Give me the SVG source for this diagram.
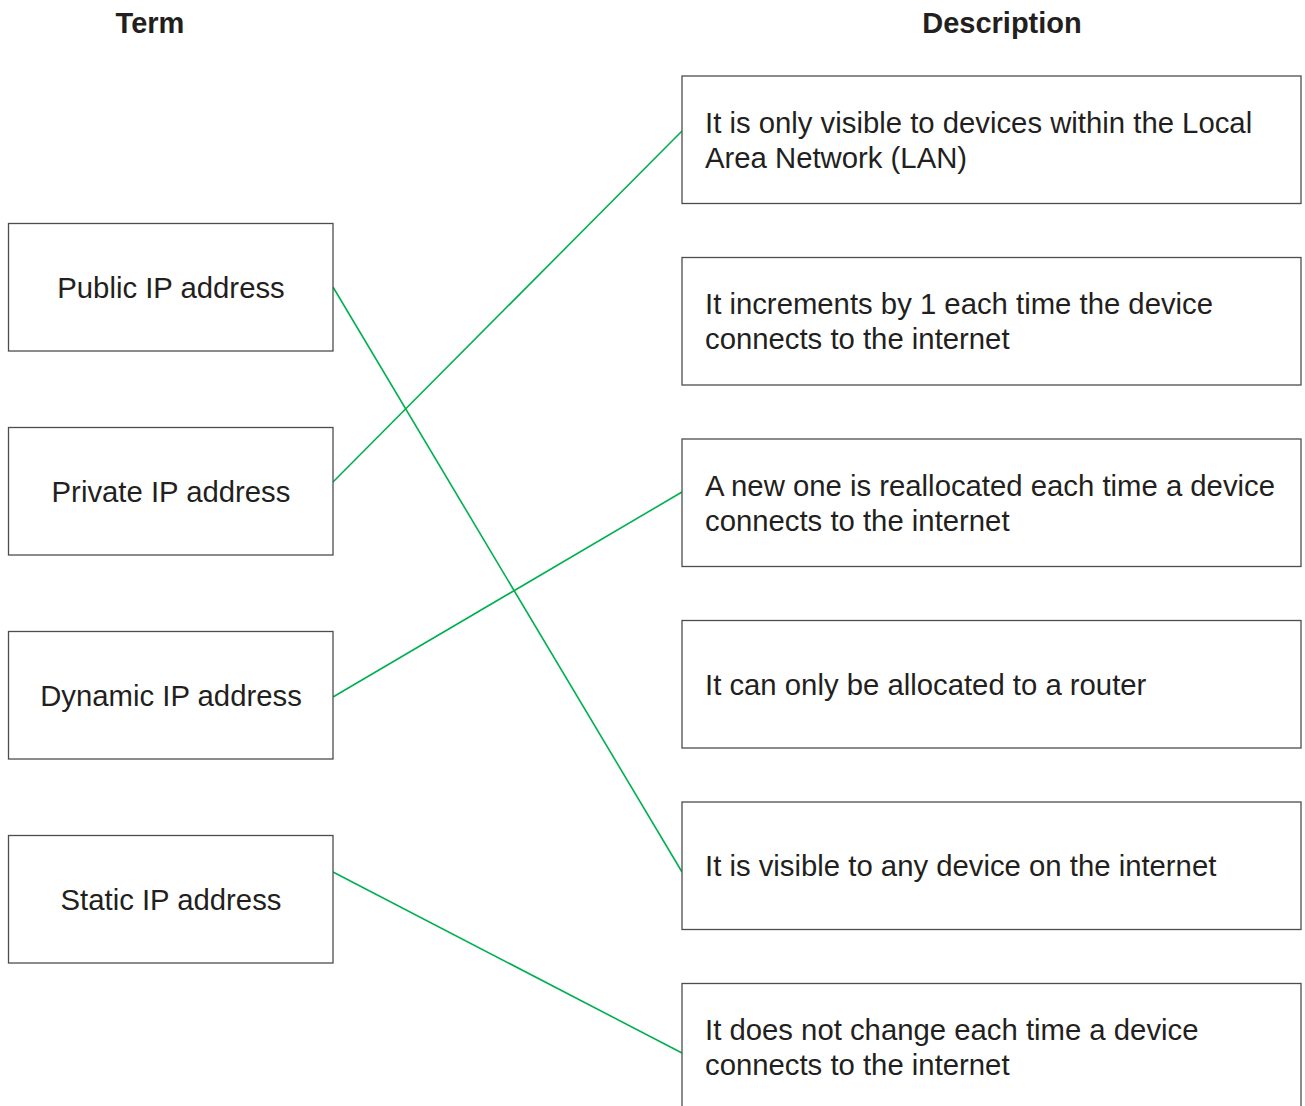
<svg xmlns="http://www.w3.org/2000/svg" width="1305" height="1106" viewBox="0 0 1305 1106">
<style>
.box{fill:#fff;stroke:#4d4d4d;stroke-width:1.3}
.t{font-family:"Liberation Sans",Arial,sans-serif;font-size:29.3px;fill:#231f20}
.c{text-anchor:middle}
.h{font-family:"Liberation Sans",Arial,sans-serif;font-size:29px;font-weight:bold;fill:#231f20;text-anchor:middle}
.ln{stroke:#00b050;stroke-width:1.6;fill:none}
</style>
<rect width="1305" height="1106" fill="#fff"/>
<text class="h" x="150" y="33">Term</text>
<text class="h" x="1002" y="33">Description</text>
<g id="connectors">
<line class="ln" x1="333" y1="287" x2="682" y2="872"/>
<line class="ln" x1="333" y1="482" x2="682" y2="131"/>
<line class="ln" x1="333" y1="697" x2="682" y2="492"/>
<line class="ln" x1="333" y1="872" x2="682" y2="1053"/>
</g>
<g id="public"><rect class="box" x="8.5" y="223.5" width="324.5" height="127.5"/><text class="t c" x="171" y="298">Public IP address</text></g>
<g id="private"><rect class="box" x="8.5" y="427.5" width="324.5" height="127.5"/><text class="t c" x="171" y="502">Private IP address</text></g>
<g id="dynamic"><rect class="box" x="8.5" y="631.5" width="324.5" height="127.5"/><text class="t c" x="171" y="706">Dynamic IP address</text></g>
<g id="static"><rect class="box" x="8.5" y="835.5" width="324.5" height="127.5"/><text class="t c" x="171" y="910">Static IP address</text></g>
<g id="d1"><rect class="box" x="682" y="76" width="619" height="127.5"/><text class="t" x="705" y="133">It is only visible to devices within the Local</text><text class="t" x="705" y="168">Area Network (LAN)</text></g>
<g id="d2"><rect class="box" x="682" y="257.5" width="619" height="127.5"/><text class="t" x="705" y="314">It increments by 1 each time the device</text><text class="t" x="705" y="349">connects to the internet</text></g>
<g id="d3"><rect class="box" x="682" y="439" width="619" height="127.5"/><text class="t" x="705" y="496">A new one is reallocated each time a device</text><text class="t" x="705" y="531">connects to the internet</text></g>
<g id="d4"><rect class="box" x="682" y="620.5" width="619" height="127.5"/><text class="t" x="705" y="695">It can only be allocated to a router</text></g>
<g id="d5"><rect class="box" x="682" y="802" width="619" height="127.5"/><text class="t" x="705" y="876">It is visible to any device on the internet</text></g>
<g id="d6"><rect class="box" x="682" y="983.5" width="619" height="127.5"/><text class="t" x="705" y="1040">It does not change each time a device</text><text class="t" x="705" y="1075">connects to the internet</text></g>
</svg>
